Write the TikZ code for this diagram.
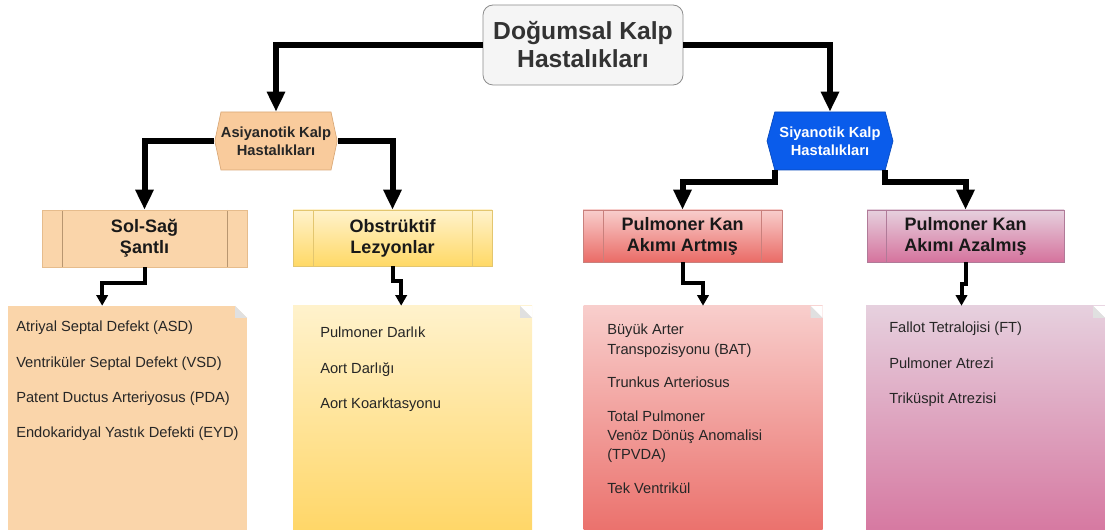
\documentclass[tikz,border=0pt]{standalone}
\usepackage{fontspec}
\setmainfont{Liberation Sans}
\usetikzlibrary{arrows.meta,shapes.symbols,calc}

\definecolor{titlefill}{HTML}{F5F5F5}
\definecolor{asifill}{HTML}{F9CB9C}
\definecolor{asiline}{HTML}{D9A877}
\definecolor{siafill}{HTML}{0A5CEB}
\definecolor{siatext}{HTML}{FFFFFF}
\definecolor{peach}{HTML}{FAD5AA}
\definecolor{peachline}{HTML}{E6BC8C}
\definecolor{yellowtop}{HTML}{FFF2CC}
\definecolor{yellowbot}{HTML}{FFD966}
\definecolor{yellowline}{HTML}{E3C66F}
\definecolor{redtop}{HTML}{F8CECC}
\definecolor{redbot}{HTML}{EA6B66}
\definecolor{redline}{HTML}{C9807C}
\definecolor{pinktop}{HTML}{E6D0DE}
\definecolor{pinkbot}{HTML}{D5739D}
\definecolor{pinkline}{HTML}{B07A98}

\tikzset{
  conn/.style={line width=4.5pt, -{Triangle[length=15pt,width=13pt]}},
  connsmall/.style={line width=3pt, -{Triangle[length=8pt,width=8.5pt]}},
  titlebox/.style={rectangle, rounded corners=7.5pt, draw=black!45, line width=0.6pt,
    fill=titlefill, minimum width=150pt, minimum height=60pt, align=center,
    text=black!80, font=\bfseries\fontsize{18.5}{21}\selectfont},
  hexbox/.style={shape=signal, signal to=east and west, signal pointer angle=#1,
    minimum height=43.5pt, inner sep=0pt, align=center, line width=0.5pt,
    font=\bfseries\fontsize{11}{13.5}\selectfont},
  headbox/.style={rectangle, inner sep=0pt, align=center, line width=0.5pt,
    text=black!90, font=\bfseries\fontsize{13.5}{15.75}\selectfont},
  divlines/.style 2 args={path picture={
    \draw[#2, line width=0.5pt] ([xshift=#1]path picture bounding box.north west)
      -- ([xshift=#1]path picture bounding box.south west);
    \draw[#2, line width=0.5pt] ([xshift=-#1]path picture bounding box.north east)
      -- ([xshift=-#1]path picture bounding box.south east);}},
  divleft/.style 2 args={path picture={
    \draw[#2, line width=0.5pt] ([xshift=#1]path picture bounding box.north west)
      -- ([xshift=#1]path picture bounding box.south west);}},
  notebox/.style={rectangle, inner sep=0pt, minimum width=179.25pt, minimum height=180pt,
    path picture={
    \fill[white] ([xshift=-9pt]path picture bounding box.north east)
      -- (path picture bounding box.north east)
      -- ([yshift=-9pt]path picture bounding box.north east) -- cycle;
    \fill[black!12] ([xshift=-9pt]path picture bounding box.north east)
      -- ([xshift=-9pt,yshift=-9pt]path picture bounding box.north east)
      -- ([yshift=-9pt]path picture bounding box.north east) -- cycle;}},
  notetext/.style={anchor=north west, inner sep=0pt, align=left, text=black!85,
    font=\fontsize{11}{14.6}\selectfont}
}

\begin{document}
\begin{tikzpicture}[x=0.75pt, y=-0.75pt]
	%%%%% START %%%%%
	\useasboundingbox (0, 0) rectangle (1105, 530);

	\node[titlebox] (title) at (583, 45) {Doğumsal Kalp\\Hastalıkları};

	\node[hexbox=156, fill=asifill, draw=asiline, text=black!85, minimum width=91.5pt] (asi) at (276, 141) {Asiyanotik Kalp\\Hastalıkları};
	\node[hexbox=150, fill=siafill, draw=siafill!80!black, text=siatext, minimum width=94.5pt] (sia) at (830, 141) {Siyanotik Kalp\\Hastalıkları};

	\node[headbox, fill=peach, draw=peachline, minimum width=153.75pt, minimum height=42.75pt, divlines={15pt}{peachline!80!black}] (sol) at (144.5, 238.5) {Sol-Sağ\\Şantlı};
	\node[headbox, top color=yellowtop, bottom color=yellowbot, draw=yellowline, minimum width=149.25pt, minimum height=42pt, divlines={15pt}{yellowline}] (obs) at (392.5, 238) {Obstrüktif\\Lezyonlar};
	\node[headbox, top color=redtop, bottom color=redbot, draw=redline, minimum width=149.25pt, minimum height=39pt, divlines={15.5pt}{redline}] (pa) at (682.5, 236) {Pulmoner Kan\\Akımı Artmış};
	\node[headbox, top color=pinktop, bottom color=pinkbot, draw=pinkline, minimum width=147.75pt, minimum height=39pt, divleft={14.25pt}{pinkline}] (pz) at (965.5, 236) {Pulmoner Kan\\Akımı Azalmış};

	%%%%% notes %%%%%
	\node[notebox, fill=peach] (n1) at (127.5, 426) {};
	\node[notebox, top color=yellowtop, bottom color=yellowbot!95!orange] (n2) at (412.5, 426) {};
	\node[notebox, top color=redtop, bottom color=redbot] (n3) at (703, 426) {};
	\node[notebox, top color=pinktop, bottom color=pinkbot] (n4) at (985.5, 426) {};

	\node[notetext] (t1) at (16, 321) {Atriyal Septal Defekt (ASD)\\[11.8pt]Ventriküler Septal Defekt (VSD)\\[11.8pt]Patent Ductus Arteriyosus (PDA)\\[11.8pt]Endokaridyal Yastık Defekti (EYD)};
	\node[notetext] (t2) at (320, 327) {Pulmoner Darlık\\[11.8pt]Aort Darlığı\\[11.8pt]Aort Koarktasyonu};
	\node[notetext] (t3) at (607, 324) {Büyük Arter\\Transpozisyonu (BAT)\\[10.4pt]Trunkus Arteriosus\\[10.4pt]Total Pulmoner\\Venöz Dönüş Anomalisi\\(TPVDA)\\[10.4pt]Tek Ventrikül};
	\node[notetext] (t4) at (889, 322) {Fallot Tetralojisi (FT)\\[11.8pt]Pulmoner Atrezi\\[11.8pt]Triküspit Atrezisi};

	%%%%% connectors %%%%%
	\draw[conn] (title.west) -| (asi.north);
	\draw[conn] (title.east) -| (sia.north);

	\draw[conn] (asi.west) -| (sol.north);
	\draw[conn] (asi.east) -| (obs.north);
	\draw[conn] ([xshift=-41pt]sia.south) -- ++(0, 12) -| (pa.north);
	\draw[conn] ([xshift=41pt]sia.south) -- ++(0, 12) -| (pz.north);

	\draw[connsmall] (sol.south) -- ++(0, 16) -| ([xshift=-19pt]n1.north);
	\draw[connsmall] (obs.south) -- ++(0, 15) -| ([xshift=-8.5pt]n2.north);
	\draw[connsmall] (pa.south) -- ++(0, 21) -| (n3.north);
	\draw[connsmall] (pz.south) -- ++(0, 22) -| ([xshift=-18pt]n4.north);

	%%%%% END %%%%%
\end{tikzpicture}
\end{document}
